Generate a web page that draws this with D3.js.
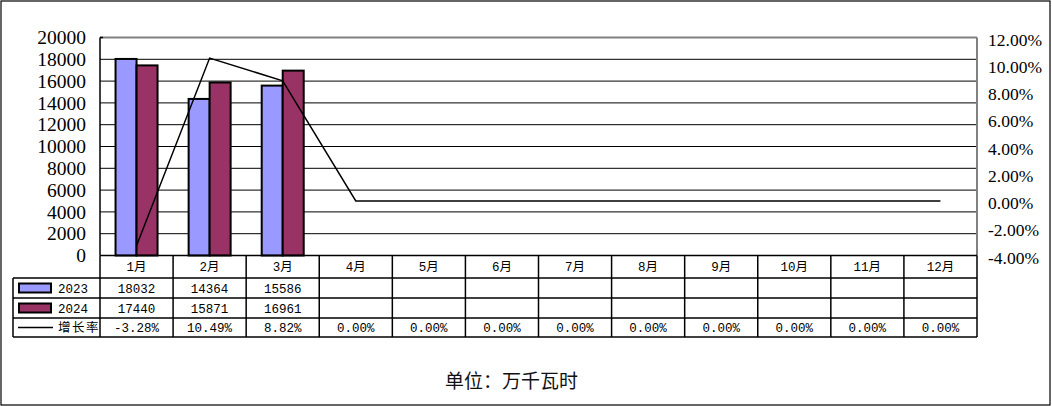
<!DOCTYPE html>
<html>
<head>
<meta charset="utf-8">
<script src="https://cdn.jsdelivr.net/npm/d3@7"></script>
<style>
body{margin:0;background:#fff;}
</style>
</head>
<body>
<script>
// data
var months=["1月","2月","3月","4月","5月","6月","7月","8月","9月","10月","11月","12月"];
var v2023=[18032,14364,15586,null,null,null,null,null,null,null,null,null];
var v2024=[17440,15871,16961,null,null,null,null,null,null,null,null,null];
var growth=[-3.28,10.49,8.82,0,0,0,0,0,0,0,0,0];
var seriesNames=["2023","2024"];
var seriesColors=["#9999FF","#993366"];
var leftTicks=[0,2000,4000,6000,8000,10000,12000,14000,16000,18000,20000];
var rightTicks=[-4,-2,0,2,4,6,8,10,12];

var serif="'Liberation Serif','DejaVu Serif',serif";
var mono="'Liberation Mono','Noto Sans CJK SC',monospace";

var W=1052,H=406;
var svg=d3.select("body").append("svg").attr("width",W).attr("height",H);

// outer frame
svg.append("rect").attr("x",1).attr("y",1).attr("width",1049).attr("height",404)
   .attr("fill","none").attr("stroke","black").attr("stroke-width",1.2);

var pLeft=100,pRight=977,pTop=37.5,pBottom=255.5;
var x=d3.scaleBand().domain(months).range([pLeft,pRight]).padding(0);
var bw=x.bandwidth();
var xs=d3.scaleBand().domain(seriesNames).range([bw/2-21,bw/2+21]).padding(0);
var y=d3.scaleLinear().domain([0,20000]).range([pBottom,pTop]);
var y2=d3.scaleLinear().domain([-4,12]).range([pBottom,pTop]);

// gridlines
svg.append("g").selectAll("line").data(leftTicks).enter().append("line")
   .attr("x1",pLeft).attr("x2",pRight).attr("y1",function(d){return y(d);}).attr("y2",function(d){return y(d);})
   .attr("stroke","black").attr("stroke-width",1);

// plot border (gray top/right, black left)
svg.append("line").attr("x1",pLeft).attr("x2",pRight).attr("y1",pTop).attr("y2",pTop).attr("stroke","#808080").attr("stroke-width",2);
svg.append("line").attr("x1",pRight).attr("x2",pRight).attr("y1",pTop).attr("y2",pBottom).attr("stroke","#808080").attr("stroke-width",2);
svg.append("line").attr("x1",pLeft).attr("x2",pLeft).attr("y1",pTop).attr("y2",pBottom).attr("stroke","black").attr("stroke-width",1.5);
svg.append("line").attr("x1",pLeft).attr("x2",pLeft+3).attr("y1",pTop).attr("y2",pTop).attr("stroke","black").attr("stroke-width",1.5);

// left axis labels
var yAxis=d3.axisLeft(y).tickValues(leftTicks).tickSize(0).tickPadding(0).tickFormat(d3.format("d"));
var ga=svg.append("g").attr("transform","translate(86,0)").call(yAxis);
ga.select(".domain").remove();
ga.selectAll("text").style("font-size","19.5px").style("font-family",serif).attr("fill","#000");

// right axis labels
var y2Axis=d3.axisRight(y2).tickValues(rightTicks).tickSize(0).tickPadding(0)
   .tickFormat(function(d){return d.toFixed(2)+"%";});
var gb=svg.append("g").attr("transform","translate(988,2)").call(y2Axis);
gb.select(".domain").remove();
gb.selectAll("text").style("font-size","17.5px").style("font-family",serif).attr("fill","#000");

// bars
var series=[v2023,v2024];
series.forEach(function(vals,si){
  svg.append("g").selectAll("rect").data(months.filter(function(m,i){return vals[i]!=null;})).enter()
    .append("rect")
    .attr("x",function(m){return x(m)+xs(seriesNames[si]);})
    .attr("y",function(m){return y(vals[months.indexOf(m)]);})
    .attr("width",xs.bandwidth())
    .attr("height",function(m){return pBottom-y(vals[months.indexOf(m)]);})
    .attr("fill",seriesColors[si]).attr("stroke","black").attr("stroke-width",2);
});

// growth line
var line=d3.line().x(function(d,i){return x(months[i])+bw/2;}).y(function(d){return y2(d);});
svg.append("path").datum(growth).attr("d",line).attr("fill","none").attr("stroke","black").attr("stroke-width",1.5);

// data table
var rowY=[pBottom,278,298,318,337];
var tleft=13;
var tg=svg.append("g").attr("stroke","black").attr("stroke-width",1.5);
tg.append("line").attr("x1",pLeft).attr("x2",pRight).attr("y1",rowY[0]).attr("y2",rowY[0]);
[1,2,3,4].forEach(function(r){
  tg.append("line").attr("x1",tleft).attr("x2",pRight).attr("y1",rowY[r]).attr("y2",rowY[r]);
});
tg.append("line").attr("x1",tleft).attr("x2",tleft).attr("y1",rowY[1]).attr("y2",rowY[4]);
months.forEach(function(m){
  tg.append("line").attr("x1",x(m)).attr("x2",x(m)).attr("y1",rowY[0]).attr("y2",rowY[4]);
});
tg.append("line").attr("x1",pRight).attr("x2",pRight).attr("y1",rowY[0]).attr("y2",rowY[4]);

function cellText(xc,r,t){
  svg.append("text").attr("x",xc).attr("y",(rowY[r]+rowY[r+1])/2+4.5)
     .style("font-family",mono).style("font-size","12.5px")
     .attr("text-anchor","middle").text(t);
}
months.forEach(function(m,i){
  var xc=x(m)+bw/2;
  cellText(xc,0,m);
  if(v2023[i]!=null) cellText(xc,1,v2023[i]);
  if(v2024[i]!=null) cellText(xc,2,v2024[i]);
  cellText(xc,3,growth[i].toFixed(2)+"%");
});

// legend keys in table
seriesNames.forEach(function(n,si){
  var yc=(rowY[si+1]+rowY[si+2])/2;
  svg.append("rect").attr("x",19).attr("y",yc-4.5).attr("width",32).attr("height",9)
     .attr("fill",seriesColors[si]).attr("stroke","black").attr("stroke-width",2);
  svg.append("text").attr("x",58).attr("y",yc+4.5)
     .style("font-family",mono).style("font-size","12.5px").text(n);
});
var yl=(rowY[3]+rowY[4])/2;
svg.append("line").attr("x1",18).attr("x2",53).attr("y1",yl).attr("y2",yl).attr("stroke","black").attr("stroke-width",1.5);
svg.append("text").attr("x",58).attr("y",yl+4.5).attr("letter-spacing","1.5px")
   .style("font-family",mono).style("font-size","12.5px").text("增长率");

// unit
svg.append("text").attr("x",445).attr("y",388).style("font-family","'Noto Sans CJK SC'")
   .style("font-size","19px").attr("fill","#111").text("单位：万千瓦时");
</script>
</body>
</html>
